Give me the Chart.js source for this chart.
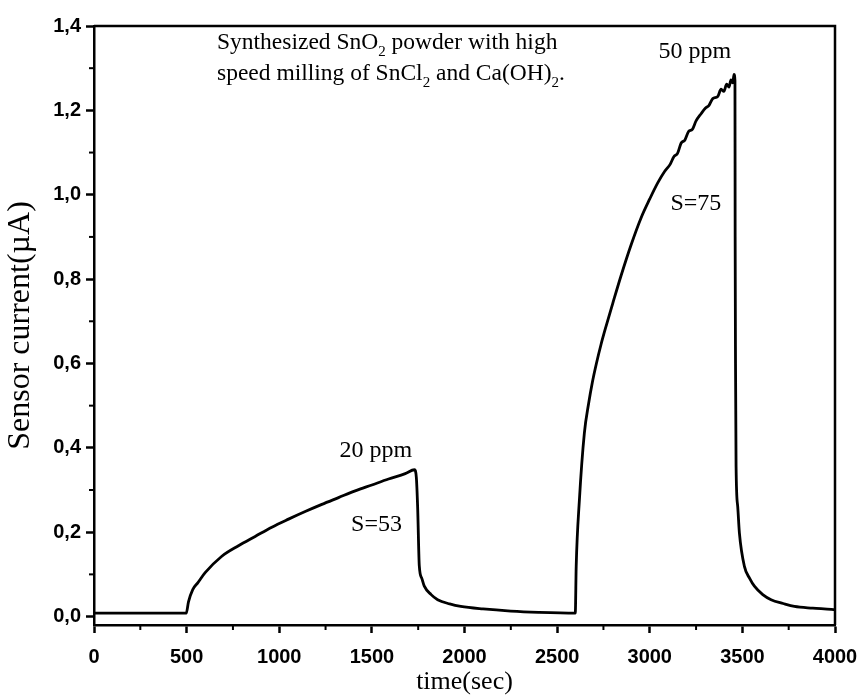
<!DOCTYPE html>
<html>
<head>
<meta charset="utf-8">
<script src="https://cdn.jsdelivr.net/npm/chart.js@4.4.1/dist/chart.umd.min.js"></script>
<style>
  html, body { margin: 0; padding: 0; background: #fff; }
  canvas { display: block; }
</style>
</head>
<body>
<canvas id="chart" width="862" height="695"></canvas>
<script>
// sensor response: time in s, current in uA
const timeSec = [
  0, 250, 498, 510, 533, 560, 600, 690, 780, 870, 960, 1050, 1140, 1230, 1320,
  1410, 1500, 1590, 1680, 1730, 1740, 1747, 1756, 1770, 1783, 1820, 1855, 1920,
  1980, 2100, 2250, 2400, 2598,
  2603, 2620, 2647, 2670, 2690, 2712, 2737, 2764, 2800, 2845, 2900, 2953, 3000,
  3043, 3080, 3110, 3130, 3150, 3169, 3190, 3210, 3230, 3250, 3277, 3300, 3320,
  3340, 3367, 3385, 3400, 3415, 3428, 3438, 3448, 3455, 3460,
  3461, 3463, 3466, 3475, 3484, 3511, 3540, 3565, 3610, 3655, 3720, 3781, 3880,
  3980, 4000
];
const currentUA = [
  0.008, 0.008, 0.008, 0.035, 0.064, 0.080, 0.104, 0.143, 0.168, 0.190, 0.212,
  0.231, 0.249, 0.266, 0.282, 0.298, 0.312, 0.326, 0.339, 0.348, 0.330, 0.260,
  0.120, 0.090, 0.072, 0.052, 0.040, 0.030, 0.024, 0.018, 0.013, 0.010, 0.008,
  0.120, 0.275, 0.435, 0.505, 0.555, 0.600, 0.645, 0.688, 0.742, 0.808, 0.882,
  0.945, 0.990, 1.028, 1.055, 1.072, 1.090, 1.098, 1.122, 1.130, 1.150, 1.155,
  1.175, 1.192, 1.205, 1.212, 1.228, 1.233, 1.250, 1.245, 1.262, 1.255, 1.272,
  1.265, 1.285, 1.270,
  0.900, 0.600, 0.356, 0.260, 0.198, 0.119, 0.090, 0.072, 0.052, 0.040, 0.031,
  0.024, 0.020, 0.017, 0.016
];

const xTicks = [0, 500, 1000, 1500, 2000, 2500, 3000, 3500, 4000];
const yTicks = [0, 0.2, 0.4, 0.6, 0.8, 1.0, 1.2, 1.4];

const noteLines = [
  [["Synthesized SnO"], ["2", true], [" powder with high"]],
  [["speed milling of SnCl"], ["2", true], [" and Ca(OH)"], ["2", true], ["."]]
];
const peakLabels = ["20 ppm", "S=53", "50 ppm", "S=75"];

const serif = "'Liberation Serif', 'Times New Roman', serif";
const sans = "'Liberation Sans', Arial, sans-serif";

// text placed in data coordinates
const annotations = [
  { parts: noteLines[0], x: 664, y: 1.346, align: "left", size: 23.5 },
  { parts: noteLines[1], x: 664, y: 1.273, align: "left", size: 23.5 },
  { parts: [[peakLabels[0]]], x: 1522, y: 0.379, align: "center", size: 24 },
  { parts: [[peakLabels[1]]], x: 1525, y: 0.202, align: "center", size: 24 },
  { parts: [[peakLabels[2]]], x: 3244, y: 1.324, align: "center", size: 24 },
  { parts: [[peakLabels[3]]], x: 3249, y: 0.964, align: "center", size: 24 }
];

function drawParts(ctx, parts, x, y, size, align) {
  const widths = parts.map(([t, sub]) => {
    ctx.font = (sub ? Math.round(size * 0.62) : size) + "px " + serif;
    return ctx.measureText(t).width;
  });
  const total = widths.reduce((a, b) => a + b, 0);
  let cx = align === "center" ? x - total / 2 : x;
  parts.forEach(([t, sub], i) => {
    ctx.font = (sub ? Math.round(size * 0.62) : size) + "px " + serif;
    ctx.fillText(t, cx, sub ? y + size * 0.3 : y);
    cx += widths[i];
  });
}

const framePlugin = {
  id: "frame",
  afterDraw(chart) {
    const { ctx, chartArea: a } = chart;
    const xs = chart.scales.x, ys = chart.scales.y;
    ctx.save();
    ctx.strokeStyle = "#000";
    ctx.lineWidth = 2.5;
    ctx.beginPath();
    ctx.moveTo(a.left, a.top);
    ctx.lineTo(a.right, a.top);
    ctx.lineTo(a.right, a.bottom);
    ctx.stroke();

    // minor ticks halfway between the major ones
    ctx.lineWidth = 2;
    for (let i = 0; i < xTicks.length - 1; i++) {
      const px = xs.getPixelForValue((xTicks[i] + xTicks[i + 1]) / 2);
      ctx.beginPath();
      ctx.moveTo(px, a.bottom);
      ctx.lineTo(px, a.bottom + 5);
      ctx.stroke();
    }
    for (let i = 0; i < yTicks.length - 1; i++) {
      const py = ys.getPixelForValue((yTicks[i] + yTicks[i + 1]) / 2);
      ctx.beginPath();
      ctx.moveTo(a.left, py);
      ctx.lineTo(a.left - 5, py);
      ctx.stroke();
    }

    ctx.fillStyle = "#000";
    ctx.textBaseline = "alphabetic";
    ctx.textAlign = "left";
    annotations.forEach((n) => {
      drawParts(ctx, n.parts, xs.getPixelForValue(n.x), ys.getPixelForValue(n.y), n.size, n.align);
    });
    ctx.restore();
  }
};

new Chart(document.getElementById("chart"), {
  type: "line",
  data: {
    datasets: [{
      data: timeSec.map((t, i) => ({ x: t, y: currentUA[i] })),
      borderColor: "#000",
      borderWidth: 2.8,
      pointRadius: 0,
      fill: false,
      cubicInterpolationMode: "monotone"
    }]
  },
  options: {
    responsive: false,
    animation: false,
    devicePixelRatio: 1,
    layout: { padding: { top: 26, right: 27, left: 0, bottom: 0 } },
    plugins: { legend: { display: false }, tooltip: { enabled: false } },
    scales: {
      x: {
        type: "linear",
        min: 0,
        max: 4000,
        afterFit: (s) => { s.height = 70; s.paddingLeft = 0; s.paddingRight = 0; },
        afterBuildTicks: (s) => { s.ticks = xTicks.map((v) => ({ value: v })); },
        ticks: {
          color: "#000",
          padding: 12,
          maxRotation: 0,
          font: { family: sans, size: 20, weight: "bold" },
          callback: (v) => String(v)
        },
        grid: { drawOnChartArea: false, drawTicks: true, tickLength: 8, tickWidth: 2.5, tickColor: "#000" },
        border: { display: true, color: "#000", width: 2.5 },
        title: {
          display: true,
          text: "time(sec)",
          color: "#000",
          font: { family: serif, size: 26, lineHeight: 1 },
          padding: { top: -2, bottom: 0 }
        }
      },
      y: {
        type: "linear",
        min: -0.02,
        max: 1.4,
        afterFit: (s) => { s.width = 94; s.paddingTop = 0; s.paddingBottom = 0; },
        afterBuildTicks: (s) => { s.ticks = yTicks.map((v) => ({ value: v })); },
        ticks: {
          color: "#000",
          padding: 5,
          font: { family: sans, size: 20, weight: "bold" },
          callback: (v) => v.toFixed(1).replace(".", ",")
        },
        grid: { drawOnChartArea: false, drawTicks: true, tickLength: 8, tickWidth: 2.5, tickColor: "#000" },
        border: { display: true, color: "#000", width: 2.5 },
        title: {
          display: true,
          text: "Sensor current(µA)",
          color: "#000",
          font: { family: serif, size: 32, lineHeight: 1 },
          padding: { top: 5, bottom: 0 }
        }
      }
    }
  },
  plugins: [framePlugin]
});
</script>
</body>
</html>
